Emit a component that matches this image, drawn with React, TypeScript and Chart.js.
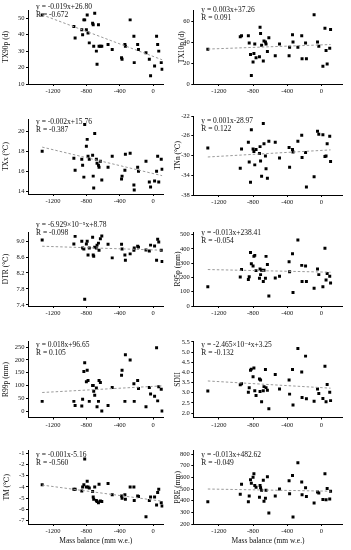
import React, { useEffect, useRef } from "react";
import { Chart, registerables } from "chart.js";
Chart.register(...registerables);

// ---- DATA ----
const massBalance = [-1330, -950, -935, -855, -845, -830, -820, -800, -790, -780, -765, -725, -718, -712, -700, -680, -672, -655, -648, -632, -615, -540, -490, -378, -372, -338, -332, -275, -230, -226, -185, -175, -85, -45, -30, 18, 42, 55, 68, 98, 108];

const tx90p = [52, 45, 38, 43, 40, 49, 49, 43, 52, 41, 35, 47, 46, 33, 53, 30, 22, 46, 33, 33, 33, 34, 31, 26, 25, 34, 33, 49, 39, 23, 34, 31, 29, 25, 15, 21, 39, 34, 30, 23, 19];
const tx10p = [33, 45, 46, 46, 39, 28, 8, 21, 29, 38, 25, 26, 54, 48, 37, 22, 41, 40, 38, 31, 44, 27, 38, 27, 35, 47, 40, 35, 46, 24, 39, 24, 66, 40, 36, 17, 53, 32, 19, 34, 52];
const txx = [18.0, 17.3, 16.1, 17.2, 16.6, 15.4, 20.7, 18.5, 19.2, 17.5, 17.2, 17.6, 15.5, 14.3, 19.8, 17.2, 16.8, 16.6, 16.4, 17.0, 15.1, 16.4, 17.5, 15.2, 15.5, 16.1, 17.7, 17.8, 14.6, 14.1, 16.4, 16.0, 17.0, 14.9, 14.4, 15.0, 16.0, 17.5, 14.9, 17.2, 16.2];
const tnn = [-28.5, -32.6, -28.7, -27.3, -31.3, -35.4, -24.8, -28.7, -29.2, -31.9, -28.8, -29.6, -28.2, -31.1, -34.2, -23.5, -27.6, -30.1, -32.7, -34.6, -27.1, -27.3, -30.5, -28.4, -32.4, -28.8, -29.3, -27.1, -25.9, -30.4, -29.4, -36.4, -34.3, -25.1, -25.7, -25.8, -30.2, -30.1, -27.6, -26.1, -31.2];
const dtr = [9.03, 8.93, 9.12, 9.0, 8.83, 8.8, 7.54, 8.93, 9.0, 8.65, 8.83, 9.1, 8.65, 8.62, 8.85, 8.83, 8.9, 8.95, 8.77, 9.06, 9.13, 8.92, 8.58, 8.92, 8.8, 8.65, 8.52, 8.68, 8.77, 8.83, 8.87, 8.85, 8.78, 8.75, 8.9, 8.88, 8.52, 9.05, 8.98, 8.77, 8.49];
const r95p = [135, 203, 256, 186, 205, 375, 296, 280, 348, 355, 248, 195, 260, 220, 250, 172, 250, 195, 348, 291, 70, 197, 208, 310, 240, 367, 95, 463, 285, 172, 280, 172, 125, 260, 220, 135, 405, 182, 228, 208, 162];
const r99p = [38, 38, 22, 20, 46, 155, 189, 115, 160, 120, 38, 100, 100, 78, 62, 90, 17, 38, 120, 112, 0, 22, 92, 140, 160, 38, 220, 200, 107, 38, 120, 88, 17, 92, 67, 58, 248, 40, 95, 85, 0];
const sdii = [3.08, 3.39, 3.44, 3.02, 3.24, 4.1, 4.16, 3.78, 4.22, 3.1, 2.86, 3.68, 3.06, 3.62, 2.55, 3.1, 3.3, 4.14, 3.25, 3.12, 2.21, 3.9, 3.18, 3.62, 2.93, 4.14, 2.39, 5.18, 4.02, 2.76, 4.8, 2.7, 2.58, 3.18, 2.96, 2.72, 4.3, 2.55, 3.4, 3.02, 2.61];
const tm = [-3.8, -4.2, -4.2, -4.35, -4.0, -3.8, -1.5, -4.0, -3.5, -4.0, -4.1, -4.4, -4.9, -5.1, -4.0, -5.2, -5.3, -5.4, -3.75, -5.25, -5.3, -3.7, -4.7, -4.8, -5.0, -4.7, -5.1, -4.0, -4.0, -5.2, -4.8, -4.85, -6.65, -5.2, -4.9, -4.9, -5.6, -4.5, -4.2, -5.4, -5.7];
const pre = [390, 455, 540, 390, 440, 580, 550, 600, 630, 530, 515, 430, 530, 510, 490, 575, 395, 420, 490, 605, 295, 440, 500, 570, 460, 615, 260, 725, 560, 450, 510, 435, 380, 475, 465, 410, 630, 408, 505, 415, 480];

const slopes = [-0.019, 0.003, -0.002, 0.001, -6.929e-5, -0.013, 0.018, -2.465e-4, -0.001, -0.013];
const intercepts = [26.8, 37.26, 15.76, -28.97, 8.78, 238.41, 96.65, 3.25, -5.16, 482.62];
const equationLabels = [
  "y = -0.019x+26.80",
  "y = 0.003x+37.26",
  "y = -0.002x+15.76",
  "y = 0.001x-28.97",
  "y = -6.929×10⁻⁵x+8.78",
  "y = -0.013x+238.41",
  "y = 0.018x+96.65",
  "y = -2.465×10⁻⁴x+3.25",
  "y = -0.001x-5.16",
  "y = -0.013x+482.62",
];
const rLabels = ["R = -0.672", "R = 0.091", "R = -0.387", "R = 0.122", "R = -0.098", "R = -0.054", "R = 0.105", "R = -0.132", "R = -0.560", "R = -0.049"];
const yTitles = ["TX90p (d)", "TX10p (d)", "TXx (℃)", "TNn (℃)", "DTR (℃)", "R95p (mm)", "R99p (mm)", "SDII", "TM (℃)", "PRE (mm)"];
const xTitle = "Mass balance (mm w.e.)";

const xTicks = [-1200, -800, -400, 0];
const tx90pTicks = [10, 15, 20, 25, 30, 35, 40, 45, 50, 55];
const tx10pTicks = [0, 10, 20, 30, 40, 50, 60, 70];
const txxTicks = [14, 15, 16, 17, 18, 19, 20, 21];
const tnnTicks = [-38, -36, -34, -32, -30, -28, -26, -24, -22];
const dtrTicks = [7.4, 7.6, 7.8, 8.0, 8.2, 8.4, 8.6, 8.8, 9.0, 9.2];
const r95pTicks = [0, 100, 200, 300, 400, 500];
const r99pTicks = [0, 50, 100, 150, 200, 250];
const sdiiTicks = [2.0, 2.5, 3.0, 3.5, 4.0, 4.5, 5.0, 5.5];
const tmTicks = [-7, -6, -5, -4, -3, -2, -1];
const preTicks = [200, 300, 400, 500, 600, 700, 800];

const seriesValues = [tx90p, tx10p, txx, tnn, dtr, r95p, r99p, sdii, tm, pre];
const yTickSets = [tx90pTicks, tx10pTicks, txxTicks, tnnTicks, dtrTicks, r95pTicks, r99pTicks, sdiiTicks, tmTicks, preTicks];

// ---- LAYOUT (positions / styles) ----
const cols = [
  { left: 0, width: 170, areaLeft: 28, areaRight: 163.5, xMin: -1500, xMax: 125, titleCx: 6.5 },
  { left: 170, width: 181, areaLeft: 193.3, areaRight: 342.7, xMin: -1500, xMax: 250, titleCx: 178 },
];
const rows = [
  { top: 0, height: 108 },
  { top: 108, height: 112 },
  { top: 220, height: 110 },
  { top: 330, height: 110 },
  { top: 440, height: 110 },
];
const panels = [
  { min: 10, max: 55, aTop: 10, aBot: 84, dec: 0, eqY: 7, titleCx: 6.5 },
  { min: 0, max: 70, aTop: 10.5, aBot: 84, dec: 0, eqY: 10, titleCx: 182 },
  { min: 13.7, max: 21.25, aTop: 119, aBot: 194, dec: 0, eqY: 122, titleCx: 6 },
  { min: -38, max: -22, aTop: 116, aBot: 195, dec: 0, eqY: 121, titleCx: 178 },
  { min: 7.37, max: 9.23, aTop: 232, aBot: 306, dec: 1, eqY: 225.5, titleCx: 6.5 },
  { min: 0, max: 519, aTop: 232, aBot: 306, dec: 0, eqY: 233.5, titleCx: 178 },
  { min: -25, max: 272, aTop: 341.5, aBot: 417.5, dec: 0, eqY: 345, titleCx: 6.5 },
  { min: 1.78, max: 5.52, aTop: 341.5, aBot: 417.5, dec: 1, eqY: 345, titleCx: 178 },
  { min: -7.3, max: -0.75, aTop: 450.5, aBot: 524, dec: 0, eqY: 455, titleCx: 7 },
  { min: 200, max: 830, aTop: 450.5, aBot: 524, dec: 0, eqY: 455, titleCx: 178 },
];

const FONT = '"Liberation Serif", "DejaVu Serif", serif';
const TEXT = "#111";

function Panel({ idx }: { idx: number }) {
  const ref = useRef<HTMLCanvasElement | null>(null);
  const col = cols[idx % 2];
  const row = rows[Math.floor(idx / 2)];
  const p = panels[idx];
  const isBottom = Math.floor(idx / 2) === rows.length - 1;

  useEffect(() => {
    const canvas = ref.current;
    if (!canvas) return;
    const values = seriesValues[idx];
    const pts = massBalance.map((x, i) => ({ x, y: values[i] }));
    const x0 = Math.min(...massBalance);
    const x1 = Math.max(...massBalance);
    const fit = [x0, x1].map((x) => ({ x, y: slopes[idx] * x + intercepts[idx] }));
    const ticksY = yTickSets[idx];

    const textPlugin = {
      id: "eqText",
      afterDraw(chart: any) {
        const ctx = chart.ctx;
        const a = chart.chartArea;
        ctx.save();
        ctx.font = `7.5px ${FONT}`;
        ctx.fillStyle = TEXT;
        ctx.textAlign = "left";
        ctx.textBaseline = "middle";
        const y1 = p.eqY - row.top;
        ctx.fillText(equationLabels[idx], a.left + 8, y1);
        ctx.fillText(rLabels[idx], a.left + 8, y1 + 8);
        ctx.restore();
      },
    };

    const chart = new Chart(canvas, {
      type: "scatter",
      data: {
        datasets: [
          {
            data: fit,
            showLine: true,
            borderColor: "#9a9a9a",
            borderWidth: 1,
            borderDash: [2.5, 2],
            pointRadius: 0,
            fill: false,
          } as any,
          {
            data: pts,
            pointStyle: "rect",
            pointRadius: 2.1,
            backgroundColor: "#000",
            borderWidth: 0,
          } as any,
        ],
      },
      options: {
        animation: false,
        responsive: false,
        devicePixelRatio: 1,
        layout: {
          padding: {
            left: 0,
            top: p.aTop - row.top,
            right: col.left + col.width - col.areaRight,
            bottom: 0,
          },
        },
        plugins: {
          legend: { display: false },
          tooltip: { enabled: false },
        },
        scales: {
          x: {
            type: "linear",
            min: col.xMin,
            max: col.xMax,
            afterBuildTicks: (s: any) => {
              s.ticks = xTicks.map((v) => ({ value: v }));
            },
            afterFit: (s: any) => {
              s.height = row.top + row.height - p.aBot;
            },
            ticks: {
              font: { family: FONT, size: 6.5 },
              color: TEXT,
              padding: 1.5,
              maxRotation: 0,
              callback: (v: any) => String(v),
            },
            grid: { drawOnChartArea: false, drawTicks: true, tickLength: 2, color: "#000" },
            border: { display: true, color: "#000", width: 1 },
            title: {
              display: isBottom,
              text: xTitle,
              font: { family: FONT, size: 7.5 },
              color: TEXT,
              padding: { top: 0, bottom: 4 },
            },
          },
          y: {
            type: "linear",
            min: p.min,
            max: p.max,
            afterBuildTicks: (s: any) => {
              s.ticks = ticksY.map((v) => ({ value: v }));
            },
            afterFit: (s: any) => {
              s.width = col.areaLeft - col.left;
            },
            ticks: {
              font: { family: FONT, size: 6.5 },
              color: TEXT,
              padding: 1.5,
              callback: (v: any) => Number(v).toFixed(p.dec),
            },
            grid: { drawOnChartArea: false, drawTicks: true, tickLength: 2, color: "#000" },
            border: { display: true, color: "#000", width: 1 },
            title: {
              display: true,
              text: yTitles[idx],
              font: { family: FONT, size: 7.5 },
              color: TEXT,
              padding: { top: Math.max(0, p.titleCx - col.left - 4.5), bottom: 0 },
            },
          },
        },
      },
      plugins: [textPlugin],
    } as any);
    return () => chart.destroy();
  }, []);

  return (
    <canvas
      ref={ref}
      width={col.width}
      height={row.height}
      style={{ position: "absolute", left: col.left, top: row.top, width: col.width, height: row.height }}
    />
  );
}

export default function App() {
  return (
    <div style={{ position: "absolute", left: 0, top: 0, width: 351, height: 550, background: "#fff", overflow: "hidden" }}>
      {seriesValues.map((_, i) => (
        <Panel key={i} idx={i} />
      ))}
    </div>
  );
}
